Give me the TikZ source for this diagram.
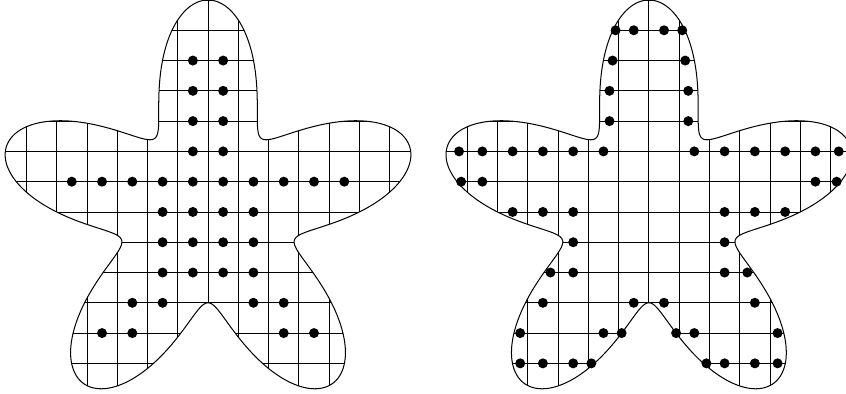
\documentclass[tikz,border=0pt]{standalone}
\usepackage{amsmath}

\newcommand{\starcurve}{plot[domain=0:360, samples=721]
  ({(5+2*sin(5*\x))*cos(\x)}, {-1+(5+2*sin(5*\x))*sin(\x)}) -- cycle}

\begin{document}
\begin{tikzpicture}[
  lattice/.style={line width=0.75pt},
  outline/.style={line width=0.95pt},
  spot/.style={fill=black}]
  \useasboundingbox (-6.87,-7.01) rectangle (21.07,6.0);
  % left star
  \begin{scope}
    \clip \starcurve;
    \draw[lattice] (-7,-7) grid (7,6);
  \end{scope}
  \draw[outline] \starcurve;
  \foreach \px/\py in {0.5/4, 0.5/3, 0.5/2, 0.5/1,
      0.5/0, 1.5/0, 2.5/0, 3.5/0, 4.5/0,
      0.5/-1, 1.5/-1, 0.5/-2, 1.5/-2, 0.5/-3, 1.5/-3,
      1.5/-4, 2.5/-4, 2.5/-5, 3.5/-5}{
    \fill[spot] (\px,\py) circle[radius=0.165];
    \fill[spot] (-\px,\py) circle[radius=0.165];
  }
  % right star
  \begin{scope}[xshift=14.56cm]
    \begin{scope}
      \clip \starcurve;
      \draw[lattice] (-7,-7) grid (7,6);
    \end{scope}
    \draw[outline] \starcurve;
    \foreach \px/\py in {0.5/5, 1.1/5, 1.2/4, 1.3/3, 1.3/2,
        1.5/1, 2.5/1, 3.5/1, 4.5/1, 5.5/1, 6.27/1,
        5.5/0, 6.2/0,
        2.5/-1, 3.5/-1, 4.5/-1, 2.5/-2, 2.5/-3, 3.25/-3,
        0.5/-4, 3.5/-4,
        0.9/-5, 1.5/-5, 4.25/-5,
        1.9/-6, 2.5/-6, 3.5/-6, 4.25/-6}{
      \fill[spot] (\px,\py) circle[radius=0.165];
      \fill[spot] (-\px,\py) circle[radius=0.165];
    }
  \end{scope}
\end{tikzpicture}
\end{document}
